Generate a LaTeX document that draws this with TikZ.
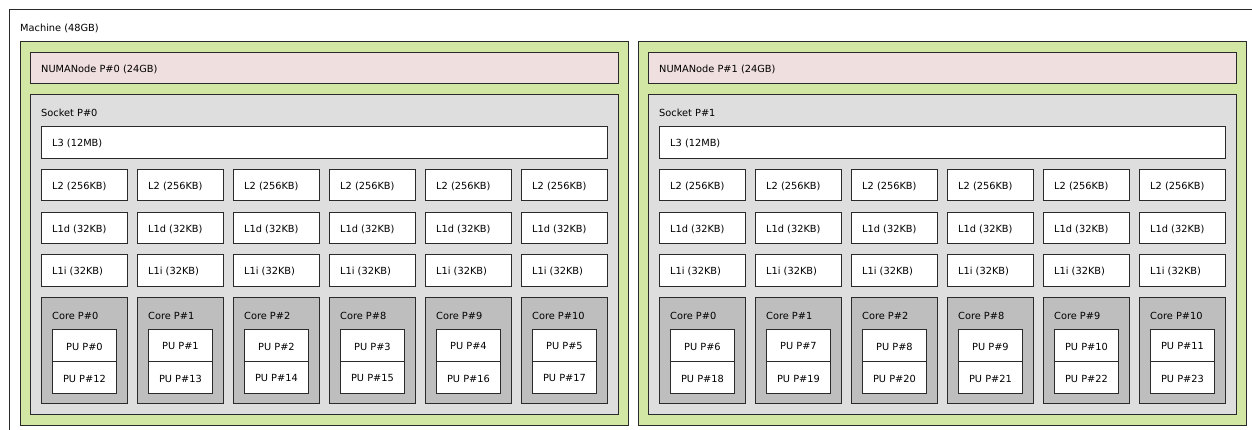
\documentclass[tikz,border=0pt]{standalone}
\usepackage{fontspec}
\setmainfont{DejaVu Sans}
\definecolor{groupbg}{HTML}{D2E7A4}
\definecolor{numabg}{HTML}{EFDFDE}
\definecolor{sockbg}{HTML}{DEDEDE}
\definecolor{corebg}{HTML}{BEBEBE}
\definecolor{edge}{HTML}{2A2A2A}
\tikzset{
  unit/.style={draw=edge, line width=0.9pt, inner sep=0pt, anchor=north west},
  cache/.style={unit, fill=white, minimum width=86pt, minimum height=31pt},
  pu/.style={unit, fill=white, minimum width=64pt, minimum height=32pt},
  lbl/.style={anchor=west, inner sep=0pt, font=\fontsize{9.8}{11}\selectfont},
  pulbl/.style={inner sep=0pt, font=\fontsize{9.8}{11}\selectfont},
}
\begin{document}
\begin{tikzpicture}[x=1pt,y=-1pt]
\useasboundingbox (0,0) rectangle (1252,430);
\clip (0,0) rectangle (1252,430);
% machine frame (continues past the page edge)
\node[unit, fill=white, minimum width=1270pt, minimum height=450pt] (machine) at (9,9) {};
\node[lbl] (machinelbl) at (20,28) {Machine (48GB)};
\foreach \p in {0,1}{
  \pgfmathsetmacro\ox{618*\p}
  \node[unit, fill=groupbg, minimum width=608pt, minimum height=384pt] (group\p) at (20+\ox,41) {};
  \node[unit, fill=numabg, minimum width=588pt, minimum height=31pt] (numa\p) at (30+\ox,52) {};
  \node[lbl] (numalbl\p) at (41+\ox,69) {NUMANode P\#\p\ (24GB)};
  \node[unit, fill=sockbg, minimum width=588pt, minimum height=320pt] (socket\p) at (30+\ox,94) {};
  \node[lbl] (socketlbl\p) at (41+\ox,113) {Socket P\#\p};
  \node[unit, fill=white, minimum width=566pt, minimum height=32pt] (l3-\p) at (41+\ox,126) {};
  \node[lbl] (l3lbl\p) at (52+\ox,143.5) {L3 (12MB)};
  \foreach \j/\c in {0/0,1/1,2/2,3/8,4/9,5/10}{
    \pgfmathsetmacro\bx{41+96*\j+\ox}
    \pgfmathtruncatemacro\pa{6*\p+\j}
    \pgfmathtruncatemacro\pb{12+6*\p+\j}
    \node[cache] (l2-\p-\j) at (\bx,169) {};
    \node[lbl] (l2lbl-\p-\j) at (\bx+11,186) {L2 (256KB)};
    \node[cache] (l1d-\p-\j) at (\bx,212) {};
    \node[lbl] (l1dlbl-\p-\j) at (\bx+11,229) {L1d (32KB)};
    \node[cache, minimum height=32pt] (l1i-\p-\j) at (\bx,254) {};
    \node[lbl] (l1ilbl-\p-\j) at (\bx+11,271.5) {L1i (32KB)};
    \node[unit, fill=corebg, minimum width=86pt, minimum height=106pt] (core-\p-\j) at (\bx,297) {};
    \node[lbl] (corelbl-\p-\j) at (\bx+11,316) {Core P\#\c};
    \node[pu] (pua-\p-\j) at (\bx+11,329) {};
    \node[pulbl] (pualbl-\p-\j) at ([yshift=-1pt]pua-\p-\j.center) {PU P\#\pa};
    \node[pu] (pub-\p-\j) at (\bx+11,361) {};
    \node[pulbl] (publbl-\p-\j) at ([yshift=-1pt]pub-\p-\j.center) {PU P\#\pb};
  }
}
\end{tikzpicture}
\end{document}
